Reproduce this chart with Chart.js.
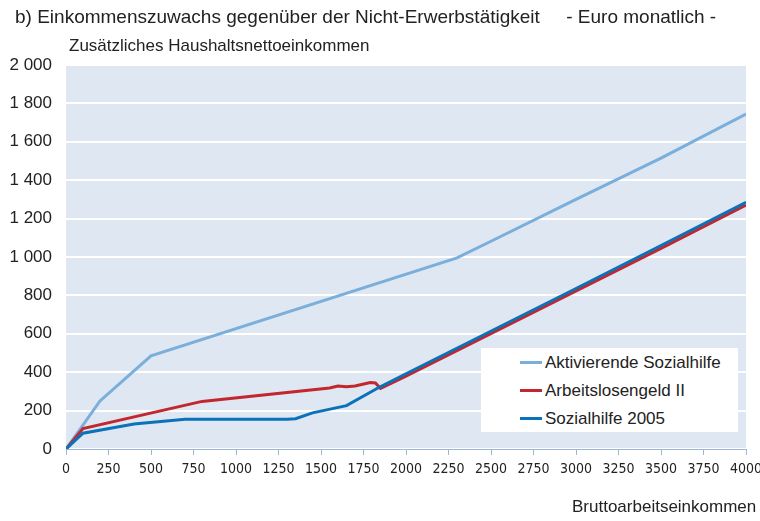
<!DOCTYPE html>
<html lang="de">
<head>
<meta charset="utf-8">
<script src="https://cdn.jsdelivr.net/npm/chart.js@4/dist/chart.umd.min.js"></script>
<style>
  body { margin: 0; background: #fff; font-family: "Liberation Sans", Arial, sans-serif; }
  #wrap { position: relative; width: 760px; height: 521px; overflow: hidden; }
  #chart { position: absolute; left: 0; top: 0; }
  .txt { position: absolute; color: #222; white-space: pre; }
  #title { left: 15px; top: 6px; font-size: 19px; }
  #ytitle { left: 69px; top: 36px; font-size: 17px; }
  #xtitle { left: 572px; top: 497px; font-size: 17px; }
  #legend { position: absolute; left: 481px; top: 348px; width: 257px; height: 84px; background: #fff; }
  .item { position: absolute; left: 39px; font-size: 17px; color: #222; line-height: 20px; }
  .item span { display: inline-block; width: 22px; height: 3px; margin-right: 3px; vertical-align: middle; position: relative; top: -1px; }
</style>
</head>
<body>
<div id="wrap">
  <canvas id="chart" width="760" height="521"></canvas>
  <div class="txt" id="title">b) Einkommenszuwachs gegenüber der Nicht-Erwerbstätigkeit     - Euro monatlich -</div>
  <div class="txt" id="ytitle">Zusätzliches Haushaltsnettoeinkommen</div>
  <div class="txt" id="xtitle">Bruttoarbeitseinkommen</div>
  <div id="legend"></div>
</div>
<script>
// --- DATEN ---
const aktivX = [0, 200, 500, 2300, 2500, 3000, 3500, 4000];
const aktivY = [0, 250, 485, 995, 1082, 1300, 1515, 1745];

const algX = [0, 100, 800, 1550, 1600, 1650, 1700, 1790, 1820, 1850, 2000, 3500, 4000];
const algY = [0, 106, 248, 318, 328, 324, 328, 346, 344, 316, 380, 1045, 1270];

const sozX = [0, 100, 400, 700, 1300, 1350, 1450, 1650, 1840, 2000, 3000, 3500, 4000];
const sozY = [0, 82, 130, 155, 155, 158, 188, 226, 320, 392, 836, 1060, 1285];

const serien = ["Aktivierende Sozialhilfe", "Arbeitslosengeld II", "Sozialhilfe 2005"];
const farben = ["#7aaedb", "#c1272d", "#0b72b9"];

const xTicks = [0, 250, 500, 750, 1000, 1250, 1500, 1750, 2000, 2250, 2500, 2750, 3000, 3250, 3500, 3750, 4000];

function punkte(xs, ys) {
  return xs.map((x, i) => ({ x: x, y: ys[i] }));
}

// --- LEGENDE (HTML) ---
const legend = document.getElementById("legend");
serien.forEach((name, i) => {
  const el = document.createElement("div");
  el.className = "item";
  el.style.top = (5 + i * 28) + "px";
  el.innerHTML = '<span style="background:' + farben[i] + '"></span>' + name;
  legend.appendChild(el);
});

// Hintergrund der Zeichenfläche
const hintergrund = {
  id: "hintergrund",
  beforeDraw(chart) {
    const a = chart.chartArea, c = chart.ctx;
    c.save();
    c.fillStyle = "#dfe7f3";
    c.fillRect(a.left, a.top, a.right - a.left, a.bottom - a.top);
    c.restore();
  }
};

const daten = [punkte(aktivX, aktivY), punkte(algX, algY), punkte(sozX, sozY)];

new Chart(document.getElementById("chart"), {
  type: "line",
  data: {
    datasets: serien.map((name, i) => ({
      label: name,
      data: daten[i],
      borderColor: farben[i],
      borderWidth: 3,
      pointRadius: 0,
      tension: 0,
      order: i === 2 ? 0 : (i === 1 ? 1 : 2)
    }))
  },
  options: {
    responsive: false,
    animation: false,
    layout: { padding: { top: 65, right: 14, left: 0, bottom: 0 } },
    plugins: { legend: { display: false }, tooltip: { enabled: false } },
    scales: {
      x: {
        type: "linear",
        min: 0, max: 4000,
        afterBuildTicks: s => { s.ticks = xTicks.map(v => ({ value: v })); },
        afterFit: s => { s.height = 72; s.paddingRight = 0; s.paddingLeft = 0; },
        border: { display: true, color: "#9bb7dc", width: 1 },
        grid: { drawOnChartArea: false, drawTicks: true, tickLength: 6, color: "#9bb7dc" },
        ticks: {
          color: "#222",
          font: { family: "'DejaVu Sans Condensed', 'Liberation Sans', sans-serif", size: 14 },
          padding: 6, maxRotation: 0, autoSkip: false,
          callback: v => String(v)
        }
      },
      y: {
        min: 0, max: 2000,
        afterFit: s => { s.width = 66; },
        border: { display: false },
        grid: { color: "#ffffff", lineWidth: 2, drawTicks: false },
        ticks: {
          stepSize: 200,
          color: "#222",
          padding: 14,
          font: { family: "Liberation Sans", size: 17 },
          callback: v => String(v).replace(/\B(?=(\d{3})+(?!\d))/g, " ")
        }
      }
    }
  },
  plugins: [hintergrund]
});
</script>
</body>
</html>
